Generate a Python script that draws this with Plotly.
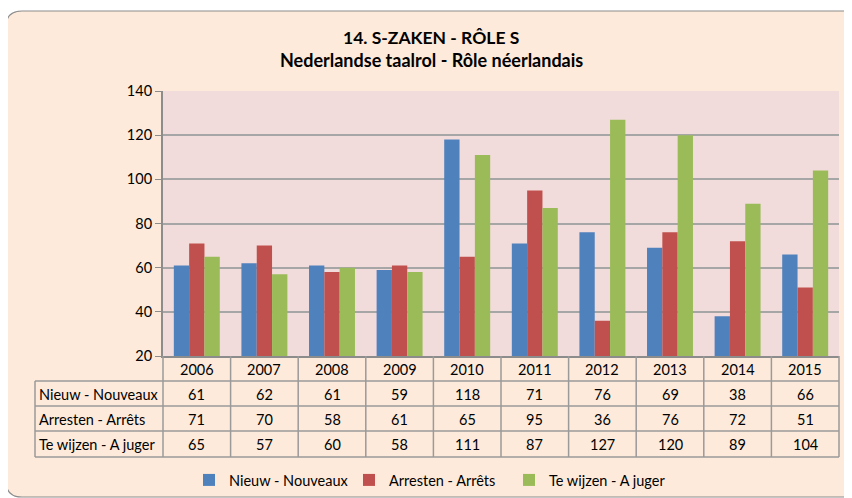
import plotly.graph_objects as go

FONT = "Lato"

years = ["2006", "2007", "2008", "2009", "2010", "2011", "2012", "2013", "2014", "2015"]
seriesNames = ["Nieuw - Nouveaux", "Arresten - Arrêts", "Te wijzen - A juger"]
nieuw = [61, 62, 61, 59, 118, 71, 76, 69, 38, 66]
arresten = [71, 70, 58, 61, 65, 95, 36, 76, 72, 51]
teWijzen = [65, 57, 60, 58, 111, 87, 127, 120, 89, 104]
colors = ["#4F81BD", "#C0504D", "#9BBB59"]

# the page body adds an 8px offset, so layout is shifted back by that
OFF = 8
W, H = 852, 498
L, T = 163 - OFF, 91 - OFF
PW, PH = 676, 265
R = W - L - PW
B = H - T - PH
LINE = "#9a9a9a"


def px(p):
    return (p - OFF - L) / PW


def py(p):
    return (T + PH - (p - OFF)) / PH


fig = go.Figure()
for name, vals, col in zip(seriesNames, [nieuw, arresten, teWijzen], colors):
    fig.add_trace(go.Bar(x=years, y=vals, name=name, marker_color=col,
                         marker_line_width=0))

shapes = []
# outer rounded box (right side runs off the picture)
x0, x1, y0, y1 = px(6), px(900), py(11), py(497)
rx, ry = 16 / PW, 16 / PH
path = (f"M {x0+rx},{y0} L {x1-rx},{y0} Q {x1},{y0} {x1},{y0-ry} "
        f"L {x1},{y1+ry} Q {x1},{y1} {x1-rx},{y1} L {x0+rx},{y1} "
        f"Q {x0},{y1} {x0},{y1+ry} L {x0},{y0-ry} Q {x0},{y0} {x0+rx},{y0} Z")
shapes.append(dict(type="path", path=path, xref="paper", yref="paper",
                   fillcolor="#FDEADA", line=dict(color="#8c8c8c", width=1.2),
                   layer="below"))
# plot area
shapes.append(dict(type="rect", xref="paper", yref="paper", x0=0, x1=1, y0=0, y1=1,
                   fillcolor="#F2DCDB", line_width=0, layer="below"))

# data table grid
rowLines = [381, 406, 431, 457]
for yy in rowLines:
    shapes.append(dict(type="line", xref="paper", yref="paper",
                       x0=px(35), x1=1, y0=py(yy), y1=py(yy),
                       line=dict(color=LINE, width=1.5)))
shapes.append(dict(type="line", xref="paper", yref="paper",
                   x0=px(35), x1=px(35), y0=py(381), y1=py(457),
                   line=dict(color=LINE, width=1.5)))
for k in range(len(years) + 1):
    shapes.append(dict(type="line", xref="paper", yref="paper",
                       x0=k / len(years), x1=k / len(years), y0=py(356), y1=py(457),
                       line=dict(color=LINE, width=1.5)))

annotations = [
    dict(text="<b>14. S-ZAKEN - RÔLE S</b>", x=px(431), y=py(37), xref="paper", yref="paper",
         showarrow=False, font=dict(size=17.5, color="#000"), xanchor="center", yanchor="middle"),
    dict(text="<b>Nederlandse taalrol - Rôle néerlandais</b>", x=px(431), y=py(60),
         xref="paper", yref="paper", showarrow=False, font=dict(size=18, color="#000"),
         xanchor="center", yanchor="middle"),
]
for i, yr in enumerate(years):
    annotations.append(dict(text=yr, x=i, y=py(369), xref="x", yref="paper",
                            showarrow=False, font=dict(size=14.5, color="#000"),
                            yanchor="middle"))
rowCenters = [394, 419, 444]
for name, vals, yc in zip(seriesNames, [nieuw, arresten, teWijzen], rowCenters):
    annotations.append(dict(text=name, x=px(37), y=py(yc), xref="paper", yref="paper",
                            showarrow=False, xanchor="left", yanchor="middle",
                            font=dict(size=14.5, color="#000")))
    for i, v in enumerate(vals):
        annotations.append(dict(text=str(v), x=i, y=py(yc), xref="x", yref="paper",
                                showarrow=False, yanchor="middle",
                                font=dict(size=14.5, color="#000")))

fig.update_layout(
    width=W, height=H,
    margin=dict(l=L, r=R, t=T, b=B, autoexpand=False),
    paper_bgcolor="white",
    plot_bgcolor="rgba(0,0,0,0)",
    font=dict(family=FONT, size=14.5, color="#000"),
    barmode="group",
    bargap=0.32,
    bargroupgap=0,
    shapes=shapes,
    annotations=annotations,
    showlegend=True,
    legend=dict(orientation="h", x=px(189), xanchor="left", y=py(480),
                yanchor="middle", bgcolor="rgba(0,0,0,0)", font=dict(size=14.5),
                itemwidth=30, entrywidth=115, traceorder="normal"),
)
fig.update_xaxes(type="category", range=[-0.5, 9.5], showticklabels=False,
                 showgrid=False, showline=True, linecolor="#8c8c8c", linewidth=2, ticks="")
fig.update_yaxes(range=[20, 140], dtick=20, showgrid=True, gridcolor="#a6a6a6",
                 gridwidth=1.5, showline=True, linecolor="#8c8c8c", linewidth=2,
                 ticks="outside", ticklen=6, tickcolor="#8c8c8c", zeroline=False,
                 tickfont=dict(size=14.5, color="#000"))

fig.write_html("out.html")
